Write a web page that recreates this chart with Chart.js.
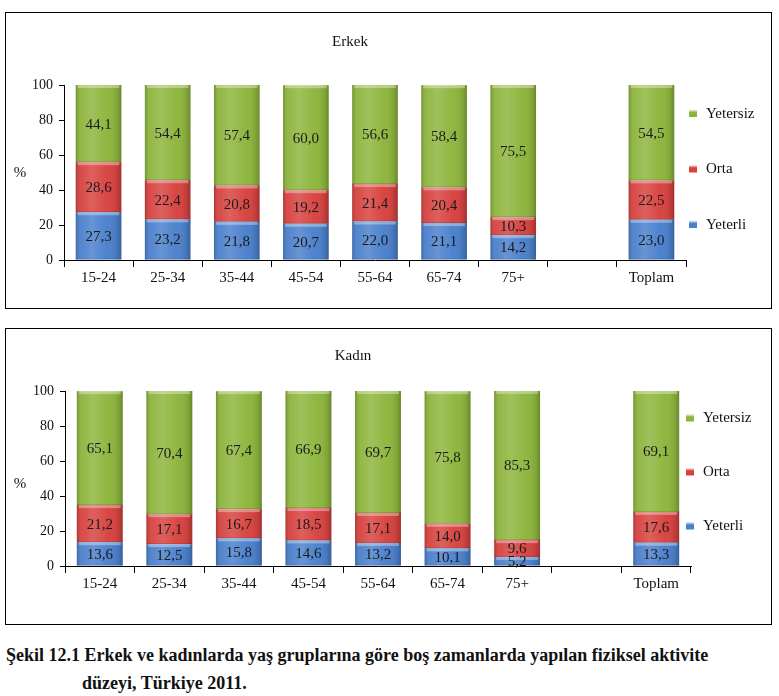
<!DOCTYPE html>
<html><head><meta charset="utf-8">
<script src="https://cdn.jsdelivr.net/npm/chart.js@4.4.1/dist/chart.umd.min.js"></script>
<style>
body{margin:0;background:#fff;width:779px;height:696px;position:relative;overflow:hidden;font-family:"Liberation Serif","DejaVu Serif",serif;}
.box{position:absolute;left:5px;width:765px;height:295px;border:1px solid #000;background:#fff}
#box1{top:12px}
#box2{top:328px}
.box canvas{position:absolute;left:0;top:0}
.cap{position:absolute;font-weight:bold;font-size:18px;line-height:20px;white-space:nowrap;color:#111}
</style></head>
<body>
<div class="box" id="box1"><canvas id="c1" width="765" height="295"></canvas></div>
<div class="box" id="box2"><canvas id="c2" width="765" height="295"></canvas></div>
<div class="cap" style="left:6px;top:645px">Şekil 12.1 Erkek ve kadınlarda yaş gruplarına göre boş zamanlarda yapılan fiziksel aktivite</div>
<div class="cap" style="left:82px;top:673px">düzeyi, Türkiye 2011.</div>
<script>
const categories = ['15-24','25-34','35-44','45-54','55-64','65-74','75+','','Toplam'];
const seriesNames = ['Yeterli','Orta','Yetersiz'];
const erkekYeterli  = [27.3,23.2,21.8,20.7,22.0,21.1,14.2,null,23.0];
const erkekOrta     = [28.6,22.4,20.8,19.2,21.4,20.4,10.3,null,22.5];
const erkekYetersiz = [44.1,54.4,57.4,60.0,56.6,58.4,75.5,null,54.5];
const kadinYeterli  = [13.6,12.5,15.8,14.6,13.2,10.1,5.2,null,13.3];
const kadinOrta     = [21.2,17.1,16.7,18.5,17.1,14.0,9.6,null,17.6];
const kadinYetersiz = [65.1,70.4,67.4,66.9,69.7,75.8,85.3,null,69.1];
const yMin = 0, yMax = 100, yStep = 20;
const titles = ['Erkek','Kadın'];
const yAxisLabel = '%';

const seriesColors = ['#4A80CC','#D7423F','#8DB53C'];
const FONT = '"Liberation Serif","DejaVu Serif",serif';

const barDeco = {
  id:'barDeco',
  afterDatasetsDraw(chart){
    const ctx = chart.ctx;
    ctx.save();
    chart.data.datasets.forEach((ds,di)=>{
      const meta = chart.getDatasetMeta(di);
      meta.data.forEach((el,i)=>{
        const v = ds.data[i];
        if (v==null) return;
        const p = el.getProps(['x','y','base','width'], true);
        const left = p.x - p.width/2, top = Math.min(p.y,p.base), h = Math.abs(p.base-p.y);
        const g = ctx.createLinearGradient(left,0,left+p.width,0);
        g.addColorStop(0,'rgba(0,0,0,0.20)');
        g.addColorStop(0.12,'rgba(255,255,255,0.05)');
        g.addColorStop(0.35,'rgba(255,255,255,0.16)');
        g.addColorStop(0.7,'rgba(255,255,255,0.02)');
        g.addColorStop(0.92,'rgba(0,0,0,0.10)');
        g.addColorStop(1,'rgba(0,0,0,0.25)');
        ctx.fillStyle = g;
        ctx.fillRect(left,top,p.width,h);
        ctx.fillStyle = 'rgba(255,255,255,0.35)';
        ctx.fillRect(left+2,top,p.width-4,3);
        ctx.fillStyle = 'rgba(0,0,0,0.12)';
        ctx.fillRect(left,top+h-1,p.width,1);
      });
    });
    ctx.font = '15px '+FONT;
    ctx.fillStyle = '#1b1b1b';
    ctx.textAlign = 'center';
    ctx.textBaseline = 'middle';
    chart.data.datasets.forEach((ds,di)=>{
      const meta = chart.getDatasetMeta(di);
      meta.data.forEach((el,i)=>{
        const v = ds.data[i];
        if (v==null) return;
        const p = el.getProps(['x','y','base'], true);
        ctx.fillText(v.toFixed(1).replace('.',','), p.x, (p.y+p.base)/2+1);
      });
    });
    ctx.restore();
  }
};

const sideLegend = {
  id:'sideLegend',
  afterDraw(chart, args, opts){
    const ctx = chart.ctx, ca = chart.chartArea;
    ctx.save();
    ctx.font = '15px '+FONT;
    ctx.textBaseline = 'middle';
    ctx.textAlign = 'left';
    const mid = (ca.top+ca.bottom)/2 + opts.dy;
    const n = chart.data.datasets.length;
    for (let k=0;k<n;k++){
      const di = n-1-k;
      const ds = chart.data.datasets[di];
      const cy = mid + (k-(n-1)/2)*opts.spacing;
      const bx = ca.right + opts.dx;
      const g = ctx.createLinearGradient(bx,cy-4,bx,cy+4);
      g.addColorStop(0,'rgba(255,255,255,0.5)');
      g.addColorStop(0.4,ds.backgroundColor);
      g.addColorStop(1,ds.backgroundColor);
      ctx.fillStyle = g;
      ctx.fillRect(bx,cy-4,8,8);
      ctx.fillStyle = '#111';
      ctx.fillText(ds.label, bx+17, cy+1);
    }
    ctx.textAlign = 'center';
    ctx.fillText(yAxisLabel, opts.pctX, mid+opts.pctDy);
    ctx.restore();
  }
};

function makeChart(id, title, yeterli, orta, yetersiz, L){
  const vals = [yeterli, orta, yetersiz];
  new Chart(document.getElementById(id), {
    type:'bar',
    data:{
      labels: categories,
      datasets: seriesNames.map((name,i)=>({
        label:name, data:vals[i], backgroundColor:seriesColors[i],
        borderWidth:0, barPercentage:0.66, categoryPercentage:1
      }))
    },
    options:{
      responsive:false, animation:false,
      layout:{padding:{left:L.padLeft,right:L.padRight,top:0,bottom:0}},
      plugins:{
        legend:{display:false},
        tooltip:{enabled:false},
        title:{display:true,text:title,color:'#111',font:{family:FONT,size:15,weight:'normal'},padding:{top:L.titleTop,bottom:L.titleBottom}},
        sideLegend:{dx:L.legDx, dy:L.legDy, spacing:L.legSp, pctX:14, pctDy:L.pctDy}
      },
      scales:{
        x:{stacked:true, offset:true,
           grid:{display:true,drawOnChartArea:false,offset:true,tickLength:7,color:'#000',tickColor:'#000'},
           border:{display:true,color:'#000',width:1},
           ticks:{color:'#111',font:{family:FONT,size:15},padding:2,maxRotation:0,autoSkip:false},
           afterFit:s=>{s.height=L.xh;}},
        y:{stacked:true, min:yMin, max:yMax,
           grid:{display:true,drawOnChartArea:false,tickLength:5,color:'#000',tickColor:'#000'},
           border:{display:true,color:'#000',width:1},
           ticks:{stepSize:yStep,color:'#111',font:{family:FONT,size:14},padding:6},
           afterFit:s=>{s.width=50;}}
      }
    },
    plugins:[barDeco, sideLegend]
  });
}

makeChart('c1', titles[0], erkekYeterli, erkekOrta, erkekYetersiz,
  {padLeft:8,padRight:85,titleTop:20,titleBottom:34,xh:48,legDx:3,legDy:-4,legSp:55.5,pctDy:5});
makeChart('c2', titles[1], kadinYeterli, kadinOrta, kadinYetersiz,
  {padLeft:9,padRight:80,titleTop:18,titleBottom:26,xh:58,legDx:-5,legDy:-7,legSp:54,pctDy:13});
</script>
</body></html>
